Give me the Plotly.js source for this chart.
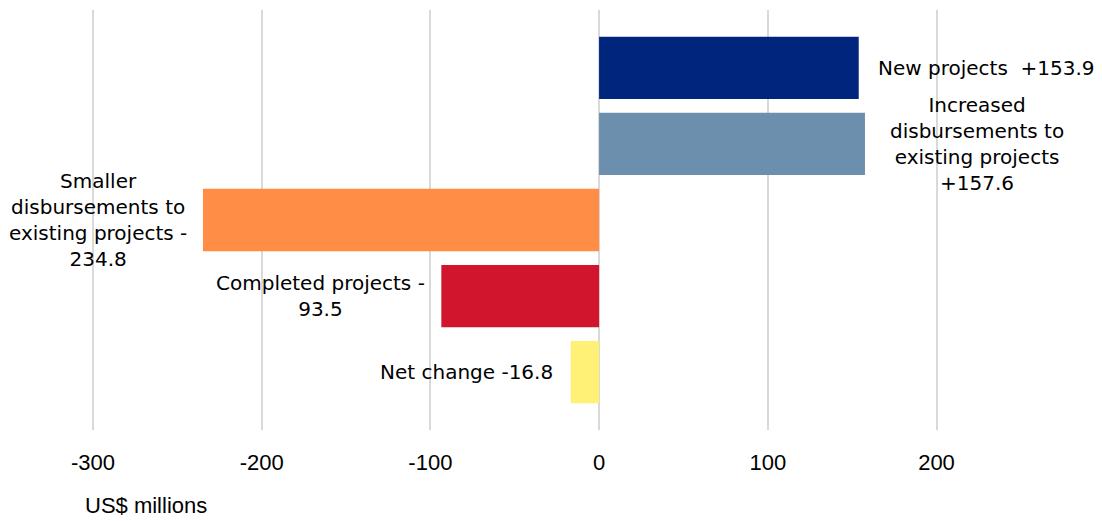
<!DOCTYPE html>
<html><head><meta charset="utf-8">
<script src="https://cdn.plot.ly/plotly-3.0.1.min.js"></script>
<style>body{margin:0;background:#fff}#c{width:1102px;height:521px}</style>
</head><body><div id="c"></div>
<script>
const categories = ["New projects", "Increased disbursements to existing projects", "Smaller disbursements to existing projects", "Completed projects", "Net change"];
const values = [153.9, 157.6, -234.8, -93.5, -16.8];
const colors = ["#00257D", "#6B8FAD", "#FF8D45", "#D0152D", "#FFF176"];
const labels = ["New projects  +153.9", "Increased<br>disbursements to<br>existing projects<br>+157.6", "Smaller<br>disbursements to<br>existing projects -<br>234.8", "Completed projects -<br>93.5", "Net change -16.8"];
const labelX = [164, 224, -297, -165, -26];
const labelAnchor = ["left", "center", "center", "center", "right"];
const tickVals = [-300, -200, -100, 0, 100, 200];
const axisTitle = "US$ millions";

const idx = categories.map((c, i) => i);
const trace = {
  type: "bar", orientation: "h",
  x: values, y: idx,
  marker: {color: colors},
  width: 0.82,
  hoverinfo: "skip"
};
const font = {family: "DejaVu Sans", size: 20, color: "#000"};
const annotations = labels.map((t, i) => ({
  x: labelX[i], y: idx[i], xref: "x", yref: "y", text: t, showarrow: false,
  xanchor: labelAnchor[i], yanchor: "middle", align: "center", font: font
}));
annotations.push({x: 83 / 1102, y: (430 - 505) / 420, xref: "paper", yref: "paper", text: axisTitle, showarrow: false,
  xanchor: "left", yanchor: "middle", font: {family: "Liberation Sans", size: 22, color: "#000"}});

const layout = {
  width: 1102, height: 521,
  margin: {l: 0, r: 0, t: 10, b: 91},
  paper_bgcolor: "#fff", plot_bgcolor: "#fff",
  showlegend: false,
  xaxis: {
    range: [-355.1, 298.1], tickvals: tickVals, ticktext: tickVals.map(String),
    showgrid: true, gridcolor: "#d9d9d9", gridwidth: 2,
    zeroline: true, zerolinecolor: "#d9d9d9", zerolinewidth: 2,
    showline: false, ticks: "outside", ticklen: 13, tickcolor: "rgba(0,0,0,0)",
    tickfont: {family: "Liberation Sans", size: 22, color: "#000"}, fixedrange: true
  },
  yaxis: {
    range: [4.76, -0.76], showticklabels: false, showgrid: false, zeroline: false, showline: false, fixedrange: true
  },
  annotations: annotations
};
Plotly.newPlot("c", [trace], layout, {displayModeBar: false, staticPlot: true});
</script></body></html>
